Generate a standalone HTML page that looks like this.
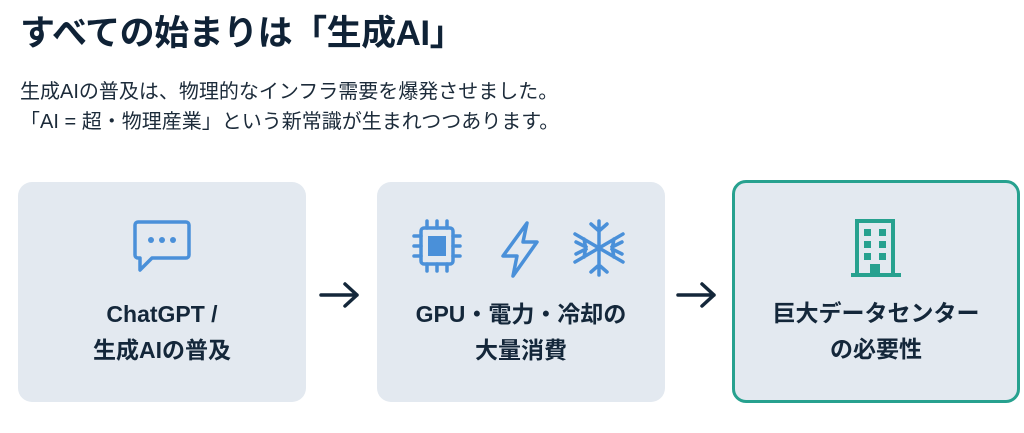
<!DOCTYPE html>
<html><head><meta charset="utf-8"><style>
body{margin:0;width:1024px;height:433px;background:#fff;font-family:"Liberation Sans","Noto Sans CJK JP",sans-serif;color:#13263a;position:relative;overflow:hidden}
.t{position:absolute;left:20px;top:5px;font-size:35px;font-weight:700;color:#0f2236;letter-spacing:-0.5px}
.s{position:absolute;left:20px;top:77px;font-size:20px;line-height:30px;color:#1c2b3a}
.b{position:absolute;top:182px;width:288px;height:220px;background:#e3e9f0;border-radius:14px;box-sizing:border-box}
.lbl{position:absolute;left:0;right:0;top:114px;text-align:center;font-size:23px;font-weight:700;line-height:36px;color:#14273a}
.ar{position:absolute;top:280px}
</style></head><body>
<div class="t">すべての始まりは「生成AI」</div>
<div class="s">生成AIの普及は、物理的なインフラ需要を爆発させました。<br>「AI = 超・物理産業」という新常識が生まれつつあります。</div>

<div class="b" style="left:18px">
<svg style="position:absolute;left:114px;top:36px" width="60" height="58" viewBox="0 0 60 58"><path d="M6 4h48a3 3 0 0 1 3 3v30a3 3 0 0 1-3 3H20L8 52V40H6a3 3 0 0 1-3-3V7a3 3 0 0 1 3-3z" fill="none" stroke="#4a90d9" stroke-width="3.5" stroke-linejoin="round"/><circle cx="19" cy="22" r="3" fill="#4a90d9"/><circle cx="30" cy="22" r="3" fill="#4a90d9"/><circle cx="41" cy="22" r="3" fill="#4a90d9"/></svg>
<div class="lbl">ChatGPT /<br>生成AIの普及</div></div>

<div class="b" style="left:377px">
<svg style="position:absolute;left:34px;top:36px" width="220" height="60" viewBox="0 0 220 60">
<g stroke="#4a90d9" stroke-width="3.5" fill="none" stroke-linecap="round">
<rect x="10" y="10" width="32" height="36" rx="3"/>
<path d="M16 3v7M26 3v7M36 3v7M16 46v7M26 46v7M36 46v7M3 18h7M3 28h7M3 38h7M42 18h7M42 28h7M42 38h7"/>
<path d="M116 5L92 38h14l-4 20 24-34h-14z" stroke-linejoin="round"/>
<path d="M188 3v54M164 16l48 28M164 44l48-28M180 6l8 7 8-7M180 54l8-7 8 7M165 24l10 5-2 10M211 24l-10 5 2 10M165 36l10-5-2-10M211 36l-10-5 2-10"/>
</g><rect x="17" y="18" width="18" height="20" fill="#4a90d9"/></svg>
<div class="lbl">GPU・電力・冷却の<br>大量消費</div></div>

<div class="b" style="left:732px;top:180px;height:223px;border:3px solid #27a18f">
<svg style="position:absolute;left:112px;top:34px" width="60" height="64" viewBox="0 0 60 64">
<rect x="10" y="4" width="36" height="54" fill="none" stroke="#27a18f" stroke-width="4"/>
<rect x="4" y="56" width="50" height="4" fill="#27a18f"/>
<g fill="#27a18f"><rect x="17" y="12" width="7" height="7"/><rect x="32" y="12" width="7" height="7"/><rect x="17" y="24" width="7" height="7"/><rect x="32" y="24" width="7" height="7"/><rect x="17" y="36" width="7" height="7"/><rect x="32" y="36" width="7" height="7"/><rect x="23" y="47" width="10" height="10"/></g></svg>
<div class="lbl" style="top:112px">巨大データセンター<br>の必要性</div></div>

<svg class="ar" style="left:318px" width="44" height="30"><path d="M3 15h36M27 4l12 11-12 11" fill="none" stroke="#14273a" stroke-width="3.5" stroke-linecap="round" stroke-linejoin="round"/></svg>
<svg class="ar" style="left:675px" width="44" height="30"><path d="M3 15h36M27 4l12 11-12 11" fill="none" stroke="#14273a" stroke-width="3.5" stroke-linecap="round" stroke-linejoin="round"/></svg>
</body></html>
